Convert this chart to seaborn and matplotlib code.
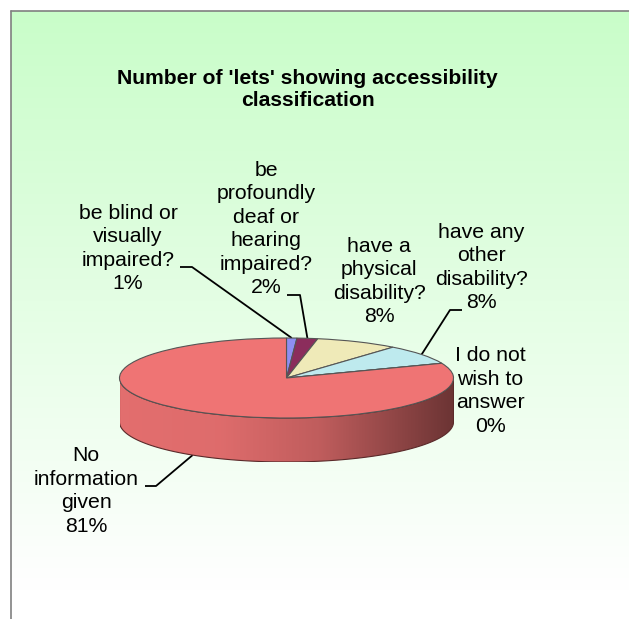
import numpy as np
import matplotlib
matplotlib.use("Agg")
import matplotlib.pyplot as plt
from matplotlib.patches import Polygon
import matplotlib.colors as mcolors
import seaborn as sns

sns.set_style("white")
plt.rcParams['font.family'] = ['Liberation Sans', 'DejaVu Sans']

# ---- data ----
title = "Number of 'lets' showing accessibility\nclassification"
categories = ["be blind or\nvisually\nimpaired?",
              "be\nprofoundly\ndeaf or\nhearing\nimpaired?",
              "have a\nphysical\ndisability?",
              "have any\nother\ndisability?",
              "I do not\nwish to\nanswer",
              "No\ninformation\ngiven"]
percents = [1, 2, 8, 8, 0, 81]
colors = ["#8E8EF2", "#8B2D5C", "#EFEAB8", "#BEEAEE", "#660066", "#EF7474"]

# ---- layout (pixels) ----
W, H = 629, 619
cx, cy = 286.5, 378.0   # centre of top face
ra, rb = 167.0, 40.0    # ellipse semi axes
depth = 44.0
d = depth / rb

fig = plt.figure(figsize=(W / 100, H / 100), dpi=100)
ax = fig.add_axes([0, 0, 1, 1])
ax.set_xlim(0, W)
ax.set_ylim(H, 0)
ax.axis("off")

# background gradient
ys = np.linspace(11, H, 300)
t = np.clip((ys - 11) / (590 - 11), 0, 1)[:, None]
top = np.array(mcolors.to_rgb("#C9FDC9"))
bot = np.array([1.0, 1.0, 1.0])
grad = (top * (1 - t) + bot * t)[:, None, :]
ax.imshow(grad, extent=(11, W, H, 11), aspect="auto", zorder=0)
ax.plot([11, 11], [H, 11], color="#808080", lw=1.2, zorder=1)
ax.plot([11, W], [11, 11], color="#808080", lw=1.2, zorder=1)

# title
ax.text(307.5, 89.5, title, ha="center", va="center", fontsize=15.2,
        fontweight="bold", color="black", linespacing=1.2, zorder=5)

# ---- pie axes ----
pax = fig.add_axes([(cx - ra) / W, 1 - (cy + rb + depth) / H,
                    2 * ra / W, (2 * rb + depth) / H])
pax.patch.set_alpha(0)
wedges, _ = pax.pie(percents, colors=colors, startangle=90, counterclock=False,
                    wedgeprops=dict(edgecolor="#555555", linewidth=0.8))
pax.set_aspect("auto")
pax.set_xlim(-1, 1)
pax.set_ylim(-1 - d, 1)
pax.axis("off")
for w in wedges:
    w.set_zorder(3)

# side wall for the visible front half
for w, col in zip(wedges, colors):
    t1, t2 = w.theta1, w.theta2
    for k in (-1, 0, 1):
        lo = max(t1, 180 + 360 * k)
        hi = min(t2, 360 + 360 * k)
        if hi <= lo:
            continue
        th = np.radians(np.linspace(lo, hi, 200))
        upper = np.column_stack([np.cos(th), np.sin(th)])
        lower = np.column_stack([np.cos(th[::-1]), np.sin(th[::-1]) - d])
        poly = Polygon(np.vstack([upper, lower]), closed=True,
                       facecolor="none", edgecolor="#5a2a2a", lw=0.8, zorder=2)
        pax.add_patch(poly)
        base = np.array(mcolors.to_rgb(col))
        xs = np.linspace(0, 1, 256)
        fac = np.interp(xs, [0, 0.3, 0.6, 1.0], [0.95, 0.93, 0.80, 0.45])
        img = (base[None, :] * fac[:, None])[None, :, :]
        im = pax.imshow(img, extent=(-1, 1, -1 - d, 0.05), aspect="auto", zorder=1.5)
        im.set_clip_path(poly)

# ---- labels ----
label_pos = [(128, 248.5), (266, 229), (379, 281.5), (481, 267.5), (490, 391), (86, 491)]
for cat, p, (lx, ly) in zip(categories, percents, label_pos):
    ax.text(lx, ly, f"{cat}\n{p}%", ha="center", va="center", fontsize=15.3,
            linespacing=1.3, color="black", zorder=5)

def anchor(w, on_wall=False):
    m = np.radians((w.theta1 + w.theta2) / 2)
    x = cx + ra * np.cos(m)
    y = cy - rb * np.sin(m) + (depth if on_wall else 0)
    return x, y

leaders = {0: ((180, 267), (192, 267), False),
           1: ((287, 295), (300, 295), False),
           3: ((462, 310), (450, 310), False),
           5: ((145, 486), (156, 486), True)}
for i, (p0, p1, wall) in leaders.items():
    ex, ey = anchor(wedges[i], wall)
    ax.plot([p0[0], p1[0], ex], [p0[1], p1[1], ey], color="black", lw=1.3,
            zorder=6, solid_capstyle="butt")

fig.savefig("out.png", dpi=100)
